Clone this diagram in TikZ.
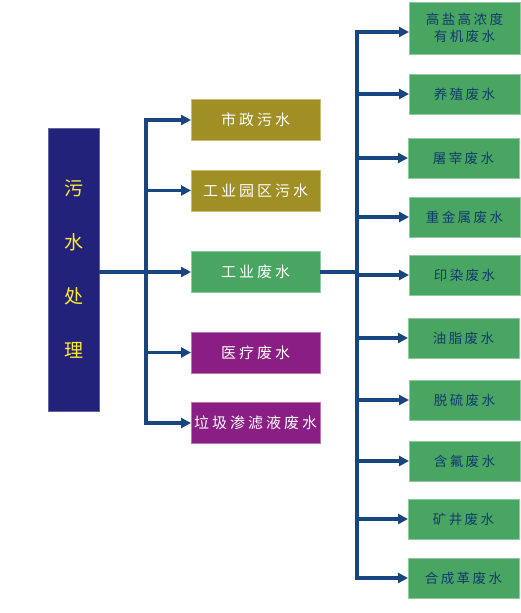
\documentclass[tikz,border=0pt]{standalone}
\usepackage{fontspec}
\setmainfont{Noto Sans CJK SC}
\newfontfamily\cjkm[LetterSpace=20]{Noto Sans CJK SC}
\newfontfamily\cjkr[LetterSpace=18]{Noto Sans CJK SC}
\usetikzlibrary{arrows.meta}
\definecolor{rootblue}{RGB}{34,34,122}
\definecolor{olivebox}{RGB}{160,143,37}
\definecolor{greenbox}{RGB}{72,166,98}
\definecolor{purplebox}{RGB}{139,30,132}
\definecolor{linecol}{RGB}{24,68,128}
\definecolor{rtext}{RGB}{20,58,110}
\definecolor{rootyellow}{RGB}{255,235,50}
\tikzset{
  box/.style={rectangle, inner sep=0pt, outer sep=0pt, line width=0.8pt},
  rootbox/.style={box, fill=rootblue, draw=rootblue!70!white, minimum width=51pt, minimum height=283pt,
     text=rootyellow, font=\fontsize{19}{21}\selectfont, align=center},
  midbox/.style={box, minimum width=129pt, minimum height=41pt, text=white,
     font=\cjkm\fontsize{15}{17}\selectfont},
  olv/.style={midbox, fill=olivebox, draw=olivebox!60!white},
  grn/.style={midbox, fill=greenbox, draw=greenbox!60!white},
  prp/.style={midbox, fill=purplebox, draw=purplebox!60!white},
  rbox/.style={box, minimum width=111pt, minimum height=40pt, fill=greenbox, draw=greenbox!60!white,
     text=rtext, font=\cjkr\fontsize{13.5}{17}\selectfont, align=center},
  conn/.style={draw=linecol, line width=3.2pt},
  arr/.style={conn, -{Triangle[length=10pt,width=10pt]}},
}
\begin{document}
\begin{tikzpicture}[x=1pt,y=-1pt]
\useasboundingbox (0,0) rectangle (521,613);
% root
\node[rootbox] (root) at (73.5,269.5) {污\\[33pt]水\\[33pt]处\\[33pt]理};
% middle
\node[olv] (m1) at (255.5,120) {市政污水};
\node[olv] (m2) at (255.5,190.5) {工业园区污水};
\node[grn] (m3) at (255.5,272) {工业废水};
\node[prp] (m4) at (255.5,352.5) {医疗废水};
\node[prp] (m5) at (255.5,423) {垃圾渗滤液废水};
% right
\node[rbox, minimum height=52pt] (r1) at (464.5,28) {高盐高浓度\\有机废水};
\node[rbox] (r2) at (464.5,94) {养殖废水};
\node[rbox] (r3) at (463.5,158) {屠宰废水};
\node[rbox] (r4) at (464.5,217) {重金属废水};
\node[rbox] (r5) at (464.5,275) {印染废水};
\node[rbox] (r6) at (463.5,338) {油脂废水};
\node[rbox] (r7) at (464.5,400) {脱硫废水};
\node[rbox] (r8) at (464.5,461) {含氟废水};
\node[rbox] (r9) at (463.5,519) {矿井废水};
\node[rbox] (r10) at (463.5,578) {合成革废水};
% junctions
\coordinate (j1) at (146,272);
\coordinate (j2) at (357,272);
% left tree
\draw[arr] (root.east |- m3.west) -- (m3.west);
\foreach \t in {m1,m2,m4,m5} \draw[arr] (j1) |- (\t.west);
% right tree
\draw[conn] (m3.east) -- (j2);
\foreach \t in {r2,r3,r4,r5,r6,r7,r8,r9,r10} \draw[arr] (j2) |- (\t.west);
\draw[arr] (j2) |- ([yshift=-4pt]r1.west);
\end{tikzpicture}
\end{document}
